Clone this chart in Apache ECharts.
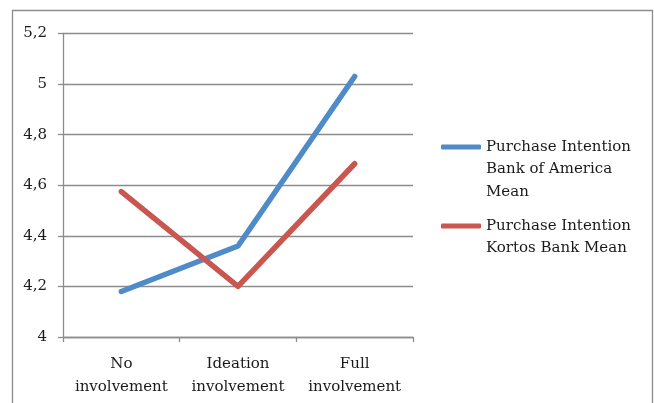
<!DOCTYPE html>
<html>
<head>
<meta charset="utf-8">
<script src="https://cdn.jsdelivr.net/npm/echarts@6/dist/echarts.min.js"></script>
<style>
  html, body { margin: 0; padding: 0; background: #ffffff; }
  #chart { width: 654px; height: 403px; }
</style>
</head>
<body>
<div id="chart"></div>
<script>
// Purchase intention means by level of involvement
const categories = ['No\ninvolvement', 'Ideation\ninvolvement', 'Full\ninvolvement'];
const bankOfAmerica = [4.18, 4.36, 5.03];
const kortosBank = [4.575, 4.2, 4.685];
const seriesNames = ['Purchase Intention Bank of America Mean', 'Purchase Intention Kortos Bank Mean'];
const legendLines = [
  ['Purchase Intention', 'Bank of America', 'Mean'],
  ['Purchase Intention', 'Kortos Bank Mean']
];
const yTicks = { min: 4, max: 5.2, step: 0.2 };

const FONT = 'DejaVu Serif';
const FONT_SIZE = 15;
const LINE_H = 22.5;
const BLUE = '#4f8bc9';
const RED = '#c9564f';

const chart = echarts.init(document.getElementById('chart'), null, { renderer: 'canvas' });

// Legend text is vertically centred on its marker; leading blank lines
// push the first line down so it sits level with the marker.
function legendFor(idx, markerY) {
  const lines = legendLines[idx];
  const pad = new Array(lines.length - 1).fill('');
  const text = pad.concat(lines).join('\n');
  const total = (lines.length * 2 - 1) * LINE_H;
  return {
    orient: 'vertical',
    left: 436,
    top: markerY - 5 - total / 2,
    data: [seriesNames[idx]],
    icon: 'roundRect',
    itemWidth: 40,
    itemHeight: 5,
    itemGap: 0,
    selectedMode: false,
    formatter: () => text,
    textStyle: {
      fontFamily: FONT,
      fontSize: FONT_SIZE,
      color: '#1a1a1a',
      lineHeight: LINE_H
    }
  };
}

chart.setOption({
  animation: false,
  backgroundColor: '#ffffff',
  graphic: [{
    type: 'rect',
    shape: { x: 12.5, y: 10.5, width: 640, height: 400 },
    style: { fill: 'none', stroke: '#8c8c8c', lineWidth: 1.3 },
    silent: true
  }],
  grid: { left: 63, right: 241, top: 33.5, bottom: 66 },
  legend: [legendFor(0, 147), legendFor(1, 226)],
  xAxis: {
    type: 'category',
    data: categories,
    boundaryGap: true,
    axisLine: { lineStyle: { color: '#8c8c8c', width: 1.3 } },
    axisTick: { show: true, length: 5, inside: false, lineStyle: { color: '#8c8c8c', width: 1.3 } },
    axisLabel: {
      interval: 0,
      hideOverlap: false,
      fontFamily: FONT, fontSize: FONT_SIZE, color: '#1a1a1a',
      lineHeight: LINE_H, margin: 16
    }
  },
  yAxis: {
    type: 'value',
    min: yTicks.min,
    max: yTicks.max,
    interval: yTicks.step,
    axisLine: { show: true, lineStyle: { color: '#8c8c8c', width: 1.3 } },
    axisTick: { show: true, length: 5, lineStyle: { color: '#8c8c8c', width: 1.3 } },
    splitLine: { show: true, lineStyle: { color: '#8c8c8c', width: 1.3 } },
    axisLabel: {
      fontFamily: FONT, fontSize: FONT_SIZE, color: '#1a1a1a', margin: 16,
      formatter: v => String(Math.round(v * 10) / 10).replace('.', ',')
    }
  },
  series: [
    {
      name: seriesNames[0], type: 'line', data: bankOfAmerica,
      symbol: 'none', color: BLUE,
      lineStyle: { width: 5.5, color: BLUE, cap: 'round', join: 'round' }
    },
    {
      name: seriesNames[1], type: 'line', data: kortosBank,
      symbol: 'none', color: RED,
      lineStyle: { width: 5.5, color: RED, cap: 'round', join: 'round' }
    }
  ]
});
</script>
</body>
</html>
